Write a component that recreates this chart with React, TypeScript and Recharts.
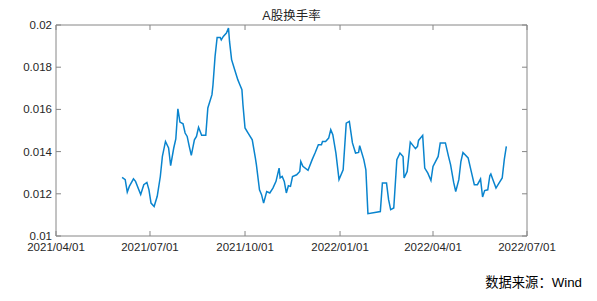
import { LineChart, Line, XAxis, YAxis } from 'recharts';

// A股换手率
const dates = [
  '2021-06-04', '2021-06-07', '2021-06-09', '2021-06-11', '2021-06-15', '2021-06-17', '2021-06-22', '2021-06-25',
  '2021-06-28', '2021-06-30', '2021-07-02', '2021-07-05', '2021-07-08', '2021-07-11', '2021-07-13', '2021-07-16',
  '2021-07-19', '2021-07-21', '2021-07-24', '2021-07-26', '2021-07-28', '2021-07-30', '2021-08-02', '2021-08-04',
  '2021-08-06', '2021-08-08', '2021-08-10', '2021-08-13', '2021-08-15', '2021-08-17', '2021-08-20', '2021-08-24',
  '2021-08-26', '2021-08-30', '2021-08-31', '2021-09-02', '2021-09-04', '2021-09-07', '2021-09-08', '2021-09-10',
  '2021-09-13', '2021-09-15', '2021-09-16', '2021-09-18', '2021-09-21', '2021-09-24', '2021-09-26', '2021-09-28',
  '2021-09-29', '2021-10-01', '2021-10-04', '2021-10-08', '2021-10-11', '2021-10-12', '2021-10-15', '2021-10-17',
  '2021-10-19', '2021-10-22', '2021-10-25', '2021-10-28', '2021-10-31', '2021-11-03', '2021-11-04', '2021-11-06',
  '2021-11-08', '2021-11-10', '2021-11-12', '2021-11-14', '2021-11-16', '2021-11-20', '2021-11-23', '2021-11-24',
  '2021-11-26', '2021-12-01', '2021-12-05', '2021-12-08', '2021-12-11', '2021-12-14', '2021-12-15', '2021-12-18',
  '2021-12-21', '2021-12-23', '2021-12-25', '2021-12-28', '2021-12-31', '2022-01-04', '2022-01-07', '2022-01-10',
  '2022-01-13', '2022-01-16', '2022-01-19', '2022-01-20', '2022-01-24', '2022-01-26', '2022-01-28', '2022-02-09',
  '2022-02-11', '2022-02-15', '2022-02-17', '2022-02-19', '2022-02-22', '2022-02-25', '2022-02-28', '2022-03-03',
  '2022-03-04', '2022-03-07', '2022-03-10', '2022-03-15', '2022-03-17', '2022-03-18', '2022-03-22', '2022-03-24',
  '2022-03-27', '2022-03-30', '2022-04-01', '2022-04-06', '2022-04-08', '2022-04-13', '2022-04-16', '2022-04-18',
  '2022-04-21', '2022-04-23', '2022-04-26', '2022-04-28', '2022-04-30', '2022-05-05', '2022-05-08', '2022-05-11',
  '2022-05-14', '2022-05-17', '2022-05-19', '2022-05-21', '2022-05-24', '2022-05-26', '2022-05-27', '2022-05-29',
  '2022-06-01', '2022-06-03', '2022-06-07', '2022-06-09', '2022-06-11',
];

const turnover = [
  0.01278, 0.01267, 0.01208, 0.01235, 0.01271, 0.01259, 0.01197, 0.01243,
  0.01254, 0.01219, 0.01156, 0.0114, 0.01188, 0.01282, 0.01377, 0.01448,
  0.01417, 0.01333, 0.01417, 0.0146, 0.01603, 0.0154, 0.01532, 0.01488,
  0.01472, 0.01425, 0.01382, 0.01456, 0.01472, 0.01515, 0.01477, 0.01477,
  0.01607, 0.0167, 0.01717, 0.01851, 0.01941, 0.01941, 0.0193, 0.01946,
  0.01962, 0.01986, 0.01922, 0.01836, 0.01788, 0.01741, 0.01717, 0.01693,
  0.01622, 0.01512, 0.01488, 0.01456, 0.0137, 0.01338, 0.01219, 0.01196,
  0.01156, 0.01211, 0.01204, 0.01227, 0.01259, 0.01322, 0.01275, 0.01282,
  0.01259, 0.01204, 0.01238, 0.01235, 0.01282, 0.0129, 0.01306, 0.01353,
  0.0133, 0.01311, 0.01362, 0.01396, 0.01433, 0.01433, 0.01448, 0.01448,
  0.01464, 0.01504, 0.0148, 0.01393, 0.01267, 0.01314, 0.01535, 0.01543,
  0.01441, 0.01393, 0.01396, 0.01428, 0.01362, 0.01314, 0.01106, 0.01116,
  0.01251, 0.01251, 0.01172, 0.01125, 0.01133, 0.01362, 0.01393, 0.01377,
  0.01275, 0.01306, 0.01445, 0.01414, 0.01425, 0.01453, 0.01477, 0.01322,
  0.01298, 0.01263, 0.0133, 0.01377, 0.01441, 0.01441, 0.01377, 0.01338,
  0.01254, 0.01211, 0.01267, 0.01353, 0.01396, 0.0137, 0.01306, 0.01243,
  0.01243, 0.0127, 0.01185, 0.01215, 0.01219, 0.01286, 0.01294, 0.01267,
  0.01227, 0.01243, 0.01275, 0.01362, 0.01425,
];

const xTickDates = ['2021-04-01', '2021-07-01', '2021-10-01', '2022-01-01', '2022-04-01', '2022-07-01'];
const yTicks = [0.01, 0.012, 0.014, 0.016, 0.018, 0.02];

const data = dates.map((d, i) => ({ t: Date.parse(d), v: turnover[i] }));
const xTicks = xTickDates.map(d => Date.parse(d));
const xDomain = [xTicks[0], xTicks[xTicks.length - 1]];

const pad = (n: number) => String(n).padStart(2, '0');
const fmtDate = (ms: number) => {
  const d = new Date(ms);
  return `${d.getUTCFullYear()}/${pad(d.getUTCMonth() + 1)}/${pad(d.getUTCDate())}`;
};

const FONT = '"Liberation Sans", Arial, "Noto Sans CJK SC", sans-serif';
const AXIS = '#868686';
const LABEL = '#262626';
const tickStyle = { fontSize: 11.5, fill: LABEL, fontFamily: FONT };

export default function App() {
  return (
    <div style={{ position: 'absolute', left: 0, top: 0, width: 597, height: 301, background: '#fff' }}>
      <LineChart width={597} height={301} data={data} margin={{ top: 24, right: 69, left: 0, bottom: 45 }}>
        <XAxis dataKey="t" type="number" domain={xDomain} ticks={xTicks} interval={0} allowDataOverflow
          tickFormatter={fmtDate} height={20} stroke={AXIS} tickSize={-5} tickMargin={12}
          tick={tickStyle} tickLine={{ stroke: AXIS }} />
        <XAxis xAxisId="top" orientation="top" dataKey="t" type="number" domain={xDomain} ticks={xTicks}
          interval={0} allowDataOverflow height={1} stroke={AXIS} tickSize={-5} tickFormatter={() => ''}
          tickLine={{ stroke: AXIS }} />
        <YAxis type="number" domain={[0.01, 0.02]} ticks={yTicks} interval={0} allowDataOverflow width={56}
          tickFormatter={v => String(+Number(v).toFixed(3))} stroke={AXIS} tickSize={-5} tickMargin={9}
          tick={tickStyle} tickLine={{ stroke: AXIS }} />
        <YAxis yAxisId="right" orientation="right" type="number" domain={[0.01, 0.02]} ticks={yTicks}
          interval={0} allowDataOverflow width={1} stroke={AXIS} tickSize={-5} tickFormatter={() => ''}
          tickLine={{ stroke: AXIS }} />
        <Line type="linear" dataKey="v" stroke="#0984CE" strokeWidth={1.5} dot={false} isAnimationActive={false} />
      </LineChart>
      <svg width={597} height={301} style={{ position: 'absolute', left: 0, top: 0, pointerEvents: 'none' }}>
        <text x={291.5} y={20} textAnchor="middle" fontSize={12.5} fill={LABEL} fontFamily={FONT}>A股换手率</text>
        <text x={582} y={287} textAnchor="end" fontSize={13.3} fill="#000" fontFamily={FONT}>数据来源：Wind</text>
      </svg>
    </div>
  );
}
